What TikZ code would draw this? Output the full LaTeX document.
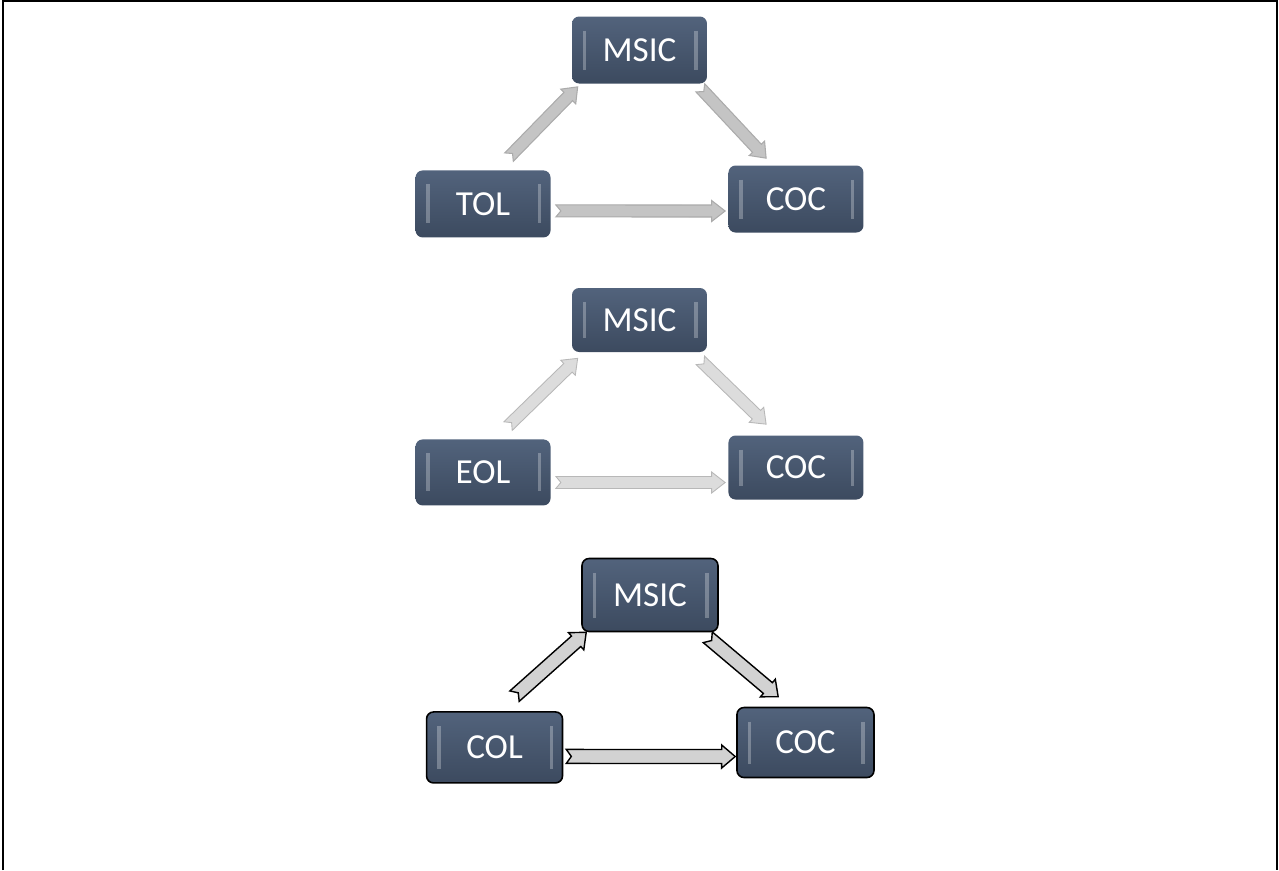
\documentclass[tikz,border=0pt]{standalone}
\usepackage{fontspec}
\setmainfont{Carlito}
\usetikzlibrary{trees,calc}

\definecolor{boxtop}{HTML}{52637C}
\definecolor{boxbot}{HTML}{3C4A5F}
\definecolor{arrA}{HTML}{C4C4C4}
\definecolor{arrAline}{HTML}{ABABAB}
\definecolor{arrB}{HTML}{DCDCDC}
\definecolor{arrBline}{HTML}{B8B8B8}
\definecolor{arrC}{HTML}{D2D2D2}

\tikzset{
	arrshaft/.store in=\arrshaft, arrhead/.store in=\arrhead,
	arrshaft=0.12cm, arrhead=0.21cm,
	box/.style={rectangle, rounded corners=4pt, minimum width=2.7cm, minimum height=1.34cm,
		top color=boxtop, bottom color=boxbot, text=white, font=\fontsize{20}{24}\selectfont,
		path picture={
			\draw[white, opacity=0.28, line width=2.2pt]
				([xshift=0.25cm,yshift=-0.28cm]path picture bounding box.north west)
				-- ([xshift=0.25cm,yshift=0.28cm]path picture bounding box.south west);
			\draw[white, opacity=0.28, line width=2.2pt]
				([xshift=-0.22cm,yshift=-0.28cm]path picture bounding box.north east)
				-- ([xshift=-0.22cm,yshift=0.28cm]path picture bounding box.south east);
		}},
	boxed/.style={box, draw=black, line width=0.9pt},
	blockarrow/.style={
		to path={
			let \p1=(\tikztostart), \p2=(\tikztotarget), \n1={atan2(\y2-\y1,\x2-\x1)} in
			($(\p1)+(\n1+90:\arrshaft)$)
			-- ($(\p2)+(\n1+180:0.27cm)+(\n1+90:\arrshaft)$)
			-- ($(\p2)+(\n1+180:0.27cm)+(\n1+90:\arrhead)$)
			-- (\p2)
			-- ($(\p2)+(\n1+180:0.27cm)+(\n1-90:\arrhead)$)
			-- ($(\p2)+(\n1+180:0.27cm)+(\n1-90:\arrshaft)$)
			-- ($(\p1)+(\n1-90:\arrshaft)$)
			-- ($(\p1)+(\n1:0.1cm)$)
			-- cycle
		}},
	arrowA/.style={blockarrow, fill=arrA, draw=arrAline, line width=0.6pt},
	arrowB/.style={blockarrow, fill=arrB, draw=arrBline, line width=0.5pt},
	arrowC/.style={blockarrow, arrshaft=0.14cm, arrhead=0.23cm, fill=arrC, draw=black, line width=0.8pt}
}

\begin{document}
\begin{tikzpicture}[x=0.02cm, y=-0.02cm]
	\useasboundingbox (0,0) rectangle (1279,870);
	\draw[line width=0.9pt] (3,870) -- (3,1) -- (1277,1) -- (1277,870);

	% first triangle
	\node[box](msicA) at (639.5,50){MSIC}
		[level distance=3.03cm, sibling distance=6.26cm]
		child{
			node[box, yshift=-1.4pt](tolA){TOL}
			edge from parent[draw=none]
		}
		child{
			node[box, yshift=1.4pt](cocA){COC}
			edge from parent[draw=none]
		};
	\draw[arrowA]([shift={(26,-13)}]tolA.north) to ([shift={(6,3)}]msicA.south west);
	\draw[arrowA]([shift={(-7,4)}]msicA.south east) to ([shift={(38,-7)}]cocA.north west);
	\draw[arrowA]([shift={(5,7)}]tolA.east) to ([shift={(-3,12)}]cocA.west);

	% second triangle
	\node[box, minimum height=1.28cm](msicB) at (639.5,320){MSIC}
		[level distance=3.0cm, sibling distance=6.26cm]
		child{
			node[box, minimum height=1.32cm, yshift=-1.4pt](eolB){EOL}
			edge from parent[draw=none]
		}
		child{
			node[box, minimum height=1.28cm, yshift=1.4pt](cocB){COC}
			edge from parent[draw=none]
		};
	\draw[arrowB]([shift={(25,-13)}]eolB.north) to ([shift={(6,6)}]msicB.south west);
	\draw[arrowB]([shift={(-7,8)}]msicB.south east) to ([shift={(38,-11)}]cocB.north west);
	\draw[arrowB]([shift={(5,10)}]eolB.east) to ([shift={(-3,15)}]cocB.west);

	% third triangle
	\node[boxed, minimum width=2.72cm, minimum height=1.46cm](msicC) at (650,595){MSIC}
		[level distance=3.0cm, sibling distance=6.22cm]
		child{
			node[boxed, minimum width=2.72cm, minimum height=1.42cm, yshift=-1.4pt](colC){COL}
			edge from parent[draw=none]
		}
		child{
			node[boxed, minimum width=2.74cm, minimum height=1.4cm, yshift=1.4pt](cocC){COC}
			edge from parent[draw=none]
		};
	\draw[arrowC]([shift={(20,-15)}]colC.north) to ([shift={(5,0)}]msicC.south west);
	\draw[arrowC]([shift={(-11,5)}]msicC.south east) to ([shift={(42,-10)}]cocC.north west);
	\draw[arrowC]([shift={(3,9)}]colC.east) to ([shift={(-1,14)}]cocC.west);
\end{tikzpicture}
\end{document}
